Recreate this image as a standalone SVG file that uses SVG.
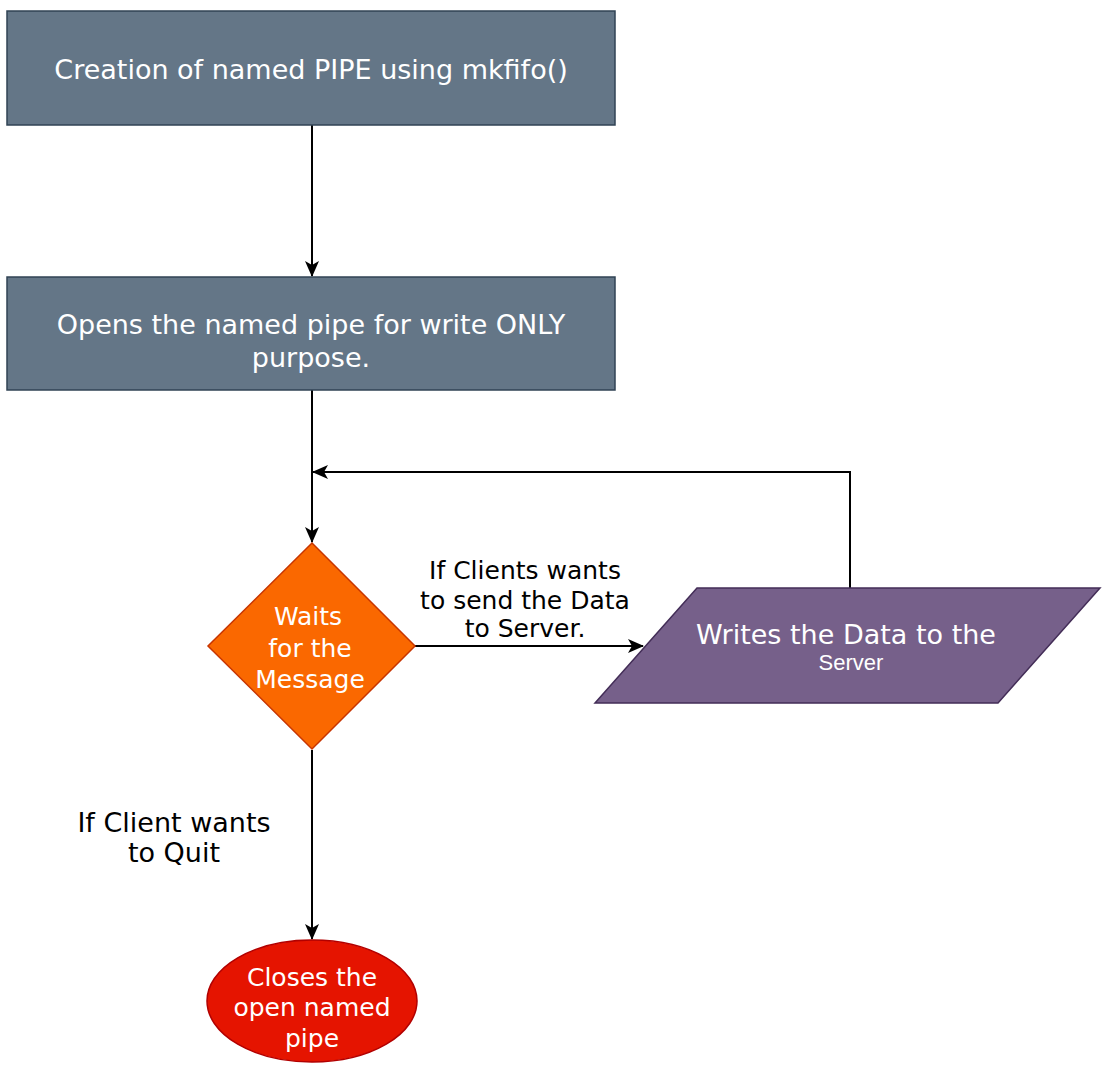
<svg xmlns="http://www.w3.org/2000/svg" width="1113" height="1068" viewBox="0 0 1113 1068">
<style>
.t{font-family:"DejaVu Sans",Verdana,sans-serif;font-size:27px;fill:#ffffff;text-anchor:middle}
.d{font-family:"DejaVu Sans",Verdana,sans-serif;font-size:25px;fill:#ffffff;text-anchor:middle}
.l{font-family:"DejaVu Sans",Verdana,sans-serif;font-size:25px;fill:#000000;text-anchor:middle}
.c{fill:none;stroke:#000000;stroke-width:2}
</style>
<defs>
<marker id="arr" viewBox="0 0 16 16" refX="15" refY="8" markerWidth="16" markerHeight="16" markerUnits="userSpaceOnUse" orient="auto">
<path d="M0,1 L16,8 L0,15 L4,8 Z" fill="#000000"/>
</marker>
</defs>
<rect width="1113" height="1068" fill="#ffffff"/>
<g id="connectors">
<path class="c" d="M312,125 V276" marker-end="url(#arr)"/>
<path class="c" d="M312,390 V542" marker-end="url(#arr)"/>
<path class="c" d="M850,588 V472 H313" marker-end="url(#arr)"/>
<path class="c" d="M415,646 H643" marker-end="url(#arr)"/>
<path class="c" d="M312,750 V939" marker-end="url(#arr)"/>
<text class="l" x="525" y="579">If Clients wants</text>
<text class="l" x="525" y="609">to send the Data</text>
<text class="l" x="525" y="637">to Server.</text>
<text class="l" x="174" y="832" style="font-size:27px">If Client wants</text>
<text class="l" x="174" y="862" style="font-size:27px">to Quit</text>
</g>
<g id="node-create">
<rect x="7" y="11" width="608" height="114" fill="#647687" stroke="#314354" stroke-width="1.5"/>
<text class="t" x="311" y="79">Creation of named PIPE using mkfifo()</text>
</g>
<g id="node-open">
<rect x="7" y="277" width="608" height="113" fill="#647687" stroke="#314354" stroke-width="1.5"/>
<text class="t" x="311" y="334">Opens the named pipe for write ONLY</text>
<text class="t" x="311" y="367">purpose.</text>
</g>
<g id="node-wait">
<path d="M312,543 L415,646 L312,749 L208,646 Z" fill="#fa6800" stroke="#c73500" stroke-width="1.5"/>
<text class="d" x="308" y="625">Waits</text>
<text class="d" x="310" y="657">for the</text>
<text class="d" x="310" y="688">Message</text>
</g>
<g id="node-write">
<path d="M697,588 L1100,588 L998,703 L595,703 Z" fill="#76608a" stroke="#432d57" stroke-width="1.5"/>
<text class="t" x="846" y="644">Writes the Data to the</text>
<text x="851" y="670" style="font-family:'Liberation Sans',Arial,sans-serif;font-size:22px;fill:#ffffff;text-anchor:middle">Server</text>
</g>
<g id="node-close">
<ellipse cx="312" cy="1001" rx="105" ry="61" fill="#e51400" stroke="#b20000" stroke-width="1.5"/>
<text class="d" x="312" y="986">Closes the</text>
<text class="d" x="312" y="1016">open named</text>
<text class="d" x="312" y="1047">pipe</text>
</g>
</svg>
